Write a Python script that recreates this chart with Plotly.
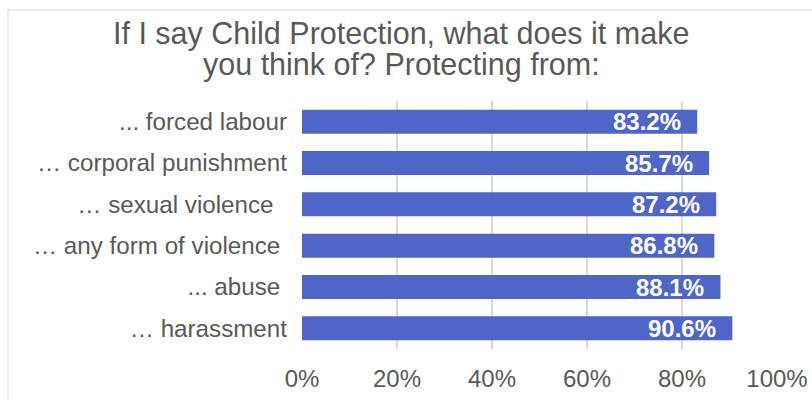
import plotly.graph_objects as go

categories = ["... forced labour", "… corporal punishment", "… sexual violence\u00a0\u00a0",
              "… any form of violence\u00a0", "... abuse\u00a0", "… harassment"]
values = [0.832, 0.857, 0.872, 0.868, 0.881, 0.906]
x_ticks = [0, 0.2, 0.4, 0.6, 0.8, 1.0]
x_tick_labels = ["0%", "20%", "40%", "60%", "80%", "100%"]
title_lines = ["If I say Child Protection, what does it make", "you think of? Protecting from:"]

W, H = 812, 399
ML, MR, MT, MB = 302, 35, 101, 50
BAR = "#4F66C6"
GREY = "#595959"
FONT = "Liberation Sans, Arial, sans-serif"

fig = go.Figure(go.Bar(
    x=values, y=categories, orientation="h",
    marker=dict(color=BAR, line=dict(width=0)),
    hoverinfo="skip",
))

for c, v in zip(categories, values):
    fig.add_annotation(x=v, y=c, xref="x", yref="y", text=f"<b>{v*100:.1f}%</b>",
                       showarrow=False, xanchor="right", yanchor="middle", xshift=-14,
                       font=dict(family=FONT, size=24, color="white"))

pw = W - ML - MR
ph = H - MT - MB


def px_x(px):
    return (px - ML) / pw


def px_y(py):
    return (ph - (py - MT)) / ph


# title as two lines (tighter line spacing than a <br> title)
for line, cy in zip(title_lines, [33, 64]):
    fig.add_annotation(x=px_x(401), y=px_y(cy), xref="paper", yref="paper", text=line,
                       showarrow=False, xanchor="center", yanchor="middle",
                       font=dict(family=FONT, size=30.5, color=GREY))

fig.add_shape(type="rect", xref="paper", yref="paper",
              x0=px_x(8), x1=px_x(W + 5), y0=px_y(H + 5), y1=px_y(10),
              line=dict(color="#d9d9d9", width=1), fillcolor="rgba(0,0,0,0)", layer="below")

fig.update_layout(
    width=W, height=H,
    margin=dict(l=ML, r=MR, t=MT, b=MB, autoexpand=False),
    paper_bgcolor="white", plot_bgcolor="white",
    bargap=0.42,
    showlegend=False,
    xaxis=dict(range=[0, 1.0], tickvals=x_ticks, ticktext=x_tick_labels,
               showgrid=True, gridcolor="#d9d9d9", gridwidth=1.5, automargin=False,
               zeroline=False, showline=False, ticks="", ticklabelstandoff=13,
               tickfont=dict(family=FONT, size=24, color=GREY), fixedrange=True),
    yaxis=dict(autorange="reversed", showgrid=False, zeroline=False, showline=False,
               ticks="", ticklabelstandoff=14, automargin=False,
               tickfont=dict(family=FONT, size=24.2, color=GREY), fixedrange=True),
    font=dict(family=FONT, color=GREY),
)

fig.write_html("out.html", config={"displayModeBar": False},
               post_script="document.body.style.margin='0';document.body.style.overflow='hidden';")
